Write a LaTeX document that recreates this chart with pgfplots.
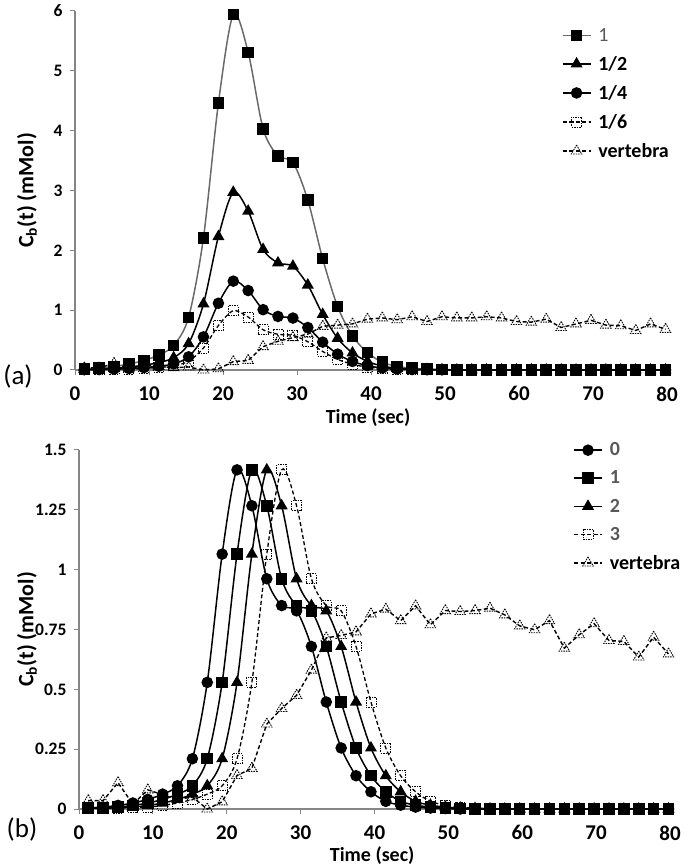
\documentclass[border=0pt]{standalone}
\usepackage{pgfplots}
\pgfplotsset{compat=1.18}
\usepackage{pgfplotstable}
\usepackage{fontspec}
\setmainfont{Carlito}
\definecolor{axgray}{HTML}{868686}
\definecolor{linegray}{HTML}{6A6A6A}
\definecolor{leggray}{HTML}{595959}

\pgfplotstableread{
t s1 s2 s4 s6 v
1.25 0.02 0.01 0.005 0.003 0.035
3.26 0.03 0.015 0.008 0.005 0.035
5.28 0.06 0.03 0.015 0.01 0.11
7.29 0.10 0.05 0.025 0.017 0.02
9.31 0.16 0.08 0.04 0.027 0.08
11.32 0.25 0.125 0.063 0.042 0.06
13.33 0.41 0.205 0.103 0.068 0.04
15.35 0.88 0.44 0.22 0.147 0.05
17.36 2.21 1.105 0.553 0.368 0.0
19.38 4.46 2.23 1.115 0.743 0.02
21.39 5.94 2.97 1.485 0.99 0.14
23.40 5.31 2.655 1.328 0.885 0.16
25.42 4.03 2.015 1.008 0.672 0.39
27.43 3.58 1.79 0.895 0.597 0.48
29.45 3.47 1.735 0.868 0.578 0.54
31.46 2.84 1.42 0.71 0.473 0.60
33.47 1.86 0.93 0.465 0.31 0.73
35.49 1.06 0.53 0.265 0.177 0.75
37.50 0.57 0.285 0.143 0.095 0.77
39.52 0.29 0.145 0.073 0.048 0.85
41.53 0.13 0.065 0.033 0.022 0.87
43.54 0.06 0.03 0.015 0.01 0.84
45.56 0.03 0.015 0.008 0.005 0.89
47.57 0.015 0.008 0.004 0.003 0.81
49.59 0.01 0.005 0.003 0.002 0.89
51.60 0 0 0 0 0.87
53.61 0 0 0 0 0.87
55.63 0 0 0 0 0.89
57.64 0 0 0 0 0.87
59.66 0 0 0 0 0.81
61.67 0 0 0 0 0.80
63.68 0 0 0 0 0.85
65.70 0 0 0 0 0.71
67.71 0 0 0 0 0.77
69.73 0 0 0 0 0.83
71.74 0 0 0 0 0.75
73.75 0 0 0 0 0.74
75.77 0 0 0 0 0.66
77.78 0 0 0 0 0.77
79.80 0 0 0 0 0.68
}\dataA

\pgfplotstableread{
t c0 c1 c2 c3 v
1.25 0.005 0.004 0.003 0.003 0.035
3.26 0.008 0.005 0.004 0.003 0.035
5.28 0.015 0.008 0.005 0.004 0.11
7.29 0.025 0.015 0.008 0.005 0.02
9.31 0.04 0.025 0.015 0.008 0.08
11.32 0.062 0.04 0.025 0.015 0.06
13.33 0.097 0.062 0.04 0.025 0.04
15.35 0.21 0.097 0.062 0.04 0.05
17.36 0.529 0.21 0.097 0.062 0.0
19.38 1.065 0.529 0.21 0.097 0.03
21.39 1.417 1.065 0.529 0.21 0.14
23.40 1.267 1.417 1.065 0.529 0.17
25.42 0.962 1.267 1.417 1.065 0.355
27.43 0.85 0.962 1.267 1.417 0.42
29.45 0.828 0.85 0.962 1.267 0.475
31.46 0.679 0.828 0.85 0.962 0.58
33.47 0.447 0.679 0.828 0.85 0.715
35.49 0.255 0.447 0.679 0.828 0.725
37.50 0.139 0.255 0.447 0.679 0.74
39.52 0.072 0.139 0.255 0.447 0.815
41.53 0.032 0.072 0.139 0.255 0.835
43.54 0.016 0.032 0.072 0.139 0.787
45.56 0.008 0.016 0.032 0.072 0.849
47.57 0.004 0.008 0.016 0.032 0.77
49.59 0.002 0.004 0.008 0.016 0.829
51.60 0 0.002 0.004 0.008 0.825
53.61 0 0 0.002 0.004 0.829
55.63 0 0 0 0.002 0.839
57.64 0 0 0 0 0.811
59.66 0 0 0 0 0.765
61.67 0 0 0 0 0.749
63.68 0 0 0 0 0.787
65.70 0 0 0 0 0.672
67.71 0 0 0 0 0.728
69.73 0 0 0 0 0.774
71.74 0 0 0 0 0.704
73.75 0 0 0 0 0.70
75.77 0 0 0 0 0.635
77.78 0 0 0 0 0.718
79.80 0 0 0 0 0.648
}\dataB

\pgfplotsset{
  cbstyle/.style={
    scale only axis,
    xmin=0, xmax=80, ymin=0,
    axis x line*=bottom, axis y line*=left,
    axis line style={axgray, line width=1.2pt},
    xtick={0,10,...,80},
    tick align=outside,
    major tick length=5pt,
    tick style={axgray, line width=1pt},
    clip=false,
    /pgf/number format/assume math mode=true,
    xticklabel style={font=\bfseries\fontsize{21}{25}\selectfont, yshift=-8pt},
    yticklabel style={font=\bfseries\fontsize{17.5}{21}\selectfont, xshift=-4pt},
    xlabel style={font=\bfseries\fontsize{20}{24}\selectfont, anchor=center},
    ylabel style={font=\bfseries\fontsize{22}{26}\selectfont, anchor=center},
    legend cell align=left,
    legend style={draw=none, fill=none, font=\bfseries\fontsize{20}{24}\selectfont,
      inner sep=0pt, row sep=9.5pt, anchor=north west},
    legend image code/.code={\path (0pt,0pt) (33pt,0pt);\draw[mark repeat=2,mark phase=2,##1] plot coordinates {(0pt,0pt) (14pt,0pt) (28pt,0pt)};},
  },
  solidser/.style={smooth, line width=1.5pt},
  dashser/.style={smooth, line width=1.3pt, dash pattern=on 4pt off 2.5pt},
  vertser/.style={line width=1.4pt, black, dash pattern=on 4pt off 2.5pt, mark=triangle, mark size=6pt,
     mark options={dash pattern=on 1.5pt off 1pt, line width=0.9pt, draw=black}},
  sqm/.style={mark=square*, mark size=5pt, mark options={solid, fill=black, draw=black}},
  trm/.style={mark=triangle*, mark size=5.5pt, mark options={solid, fill=black, draw=black}},
  cim/.style={mark=*, mark size=5pt, mark options={solid, fill=black, draw=black}},
  osqm/.style={mark=square, mark size=5pt, mark options={dash pattern=on 1.5pt off 1pt, line width=0.9pt, draw=black}},
}

\begin{document}
\begin{tikzpicture}
\useasboundingbox (0pt,0pt) rectangle (685pt,867pt);

\begin{axis}[cbstyle,
  at={(75pt,497pt)}, anchor=south west,
  width=592pt, height=359pt,
  ymax=6, ytick={0,1,...,6},
  xlabel={Time (sec)},
  ylabel={C\textsubscript{b}(t) (mMol)},
  xlabel style={at={(axis description cs:0.495,-0.133)}},
  ylabel style={at={(axis description cs:-0.081,0.5)}},
  legend style={at={(0.822,0.958)}},
]
\addplot[solidser, linegray, sqm] table[x=t,y=s1] {\dataA};
\addlegendentry{\textcolor{leggray}{\mdseries 1}}
\addplot[solidser, black, trm] table[x=t,y=s2] {\dataA};
\addlegendentry{1/2}
\addplot[solidser, black, cim] table[x=t,y=s4] {\dataA};
\addlegendentry{1/4}
\addplot[dashser, black, osqm] table[x=t,y=s6] {\dataA};
\addlegendentry{1/6}
\addplot[vertser] table[x=t,y=v] {\dataA};
\addlegendentry{vertebra}
\end{axis}

\begin{axis}[cbstyle,
  at={(79pt,58pt)}, anchor=south west,
  width=591pt, height=359pt,
  ymax=1.5, ytick={0,0.25,0.5,0.75,1,1.25,1.5},
  yticklabels={0,0.25,0.5,0.75,1,1.25,1.5},
  xlabel={Time (sec)},
  ylabel={C\textsubscript{b}(t) (mMol)},
  xlabel style={at={(axis description cs:0.496,-0.13)}},
  ylabel style={at={(axis description cs:-0.088,0.5)}},
  legend style={at={(0.836,1.026)}},
]
\addplot[solidser, black, cim] table[x=t,y=c0] {\dataB};
\addlegendentry{\textcolor{leggray}{0}}
\addplot[solidser, black, sqm] table[x=t,y=c1] {\dataB};
\addlegendentry{\textcolor{leggray}{1}}
\addplot[solidser, black, trm] table[x=t,y=c2] {\dataB};
\addlegendentry{\textcolor{leggray}{2}}
\addplot[dashser, black, osqm] table[x=t,y=c3] {\dataB};
\addlegendentry{\textcolor{leggray}{3}}
\addplot[vertser] table[x=t,y=v] {\dataB};
\addlegendentry{vertebra}
\end{axis}

\node[font=\fontsize{27}{32}\selectfont] at (18pt,490pt) {(a)};
\node[font=\fontsize{27}{32}\selectfont] at (22pt,38pt) {(b)};
\end{tikzpicture}
\end{document}
